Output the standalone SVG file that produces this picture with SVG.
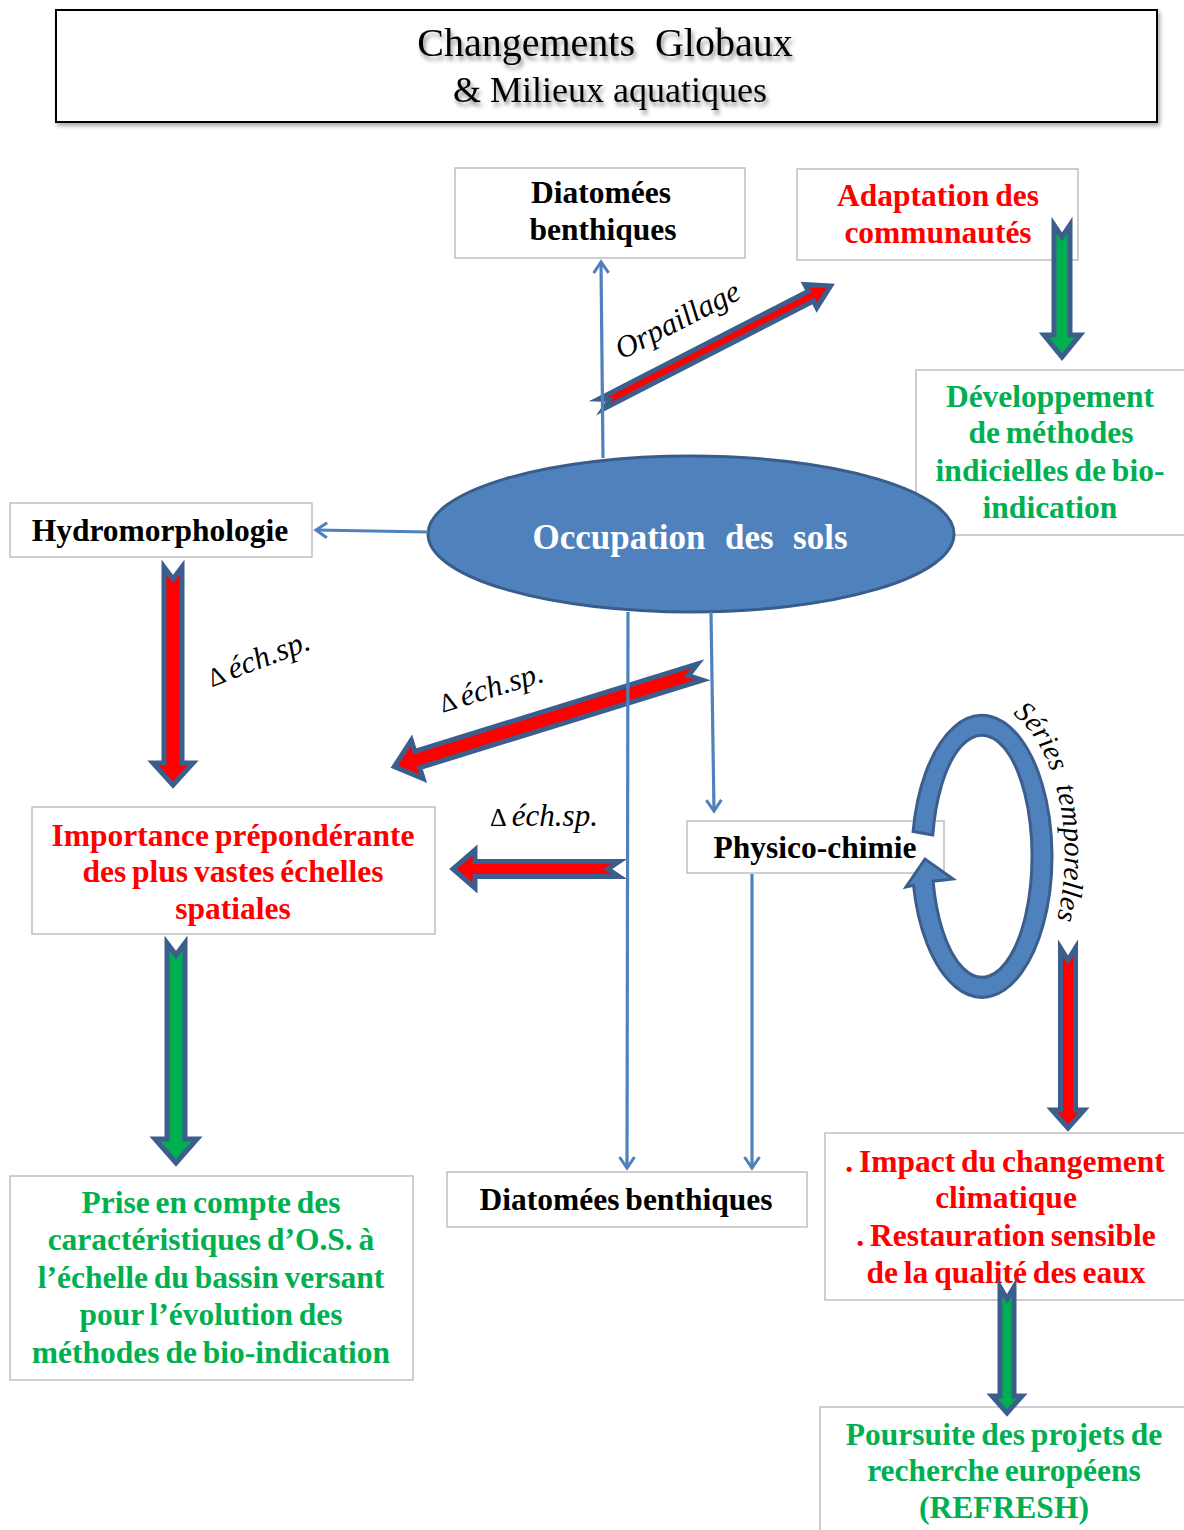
<svg xmlns="http://www.w3.org/2000/svg" width="1184" height="1530" viewBox="0 0 1184 1530">
  <defs>
    <filter id="boxShadow" x="-5%" y="-20%" width="110%" height="150%">
      <feGaussianBlur in="SourceAlpha" stdDeviation="2"/>
      <feOffset dx="2" dy="3" result="b"/>
      <feFlood flood-color="#000" flood-opacity="0.35"/>
      <feComposite in2="b" operator="in"/>
      <feMerge><feMergeNode/><feMergeNode in="SourceGraphic"/></feMerge>
    </filter>
    <filter id="textShadow" x="-10%" y="-30%" width="120%" height="170%">
      <feGaussianBlur in="SourceAlpha" stdDeviation="2.2"/>
      <feOffset dx="2" dy="4" result="b"/>
      <feFlood flood-color="#000" flood-opacity="0.45"/>
      <feComposite in2="b" operator="in"/>
      <feMerge><feMergeNode/><feMergeNode in="SourceGraphic"/></feMerge>
    </filter>
    <marker id="vhead" markerUnits="userSpaceOnUse" markerWidth="16" markerHeight="18" viewBox="0 0 16 18" refX="13" refY="9" orient="auto">
      <path d="M2,1.5 L13,9 L2,16.5" fill="none" stroke="#4F81BD" stroke-width="3"/>
    </marker>
  </defs>
  <style>
    .box { fill: #fff; stroke: #BFBFBF; stroke-width: 1.5; }
    .lbl { font-family: "Liberation Serif", "Times New Roman", serif; font-weight: bold; font-size: 31.5px; text-anchor: middle; word-spacing: -2px; }
    .big { font-size: 35px; word-spacing: 1px; white-space: pre; fill: #fff; }
    .blk { fill: #000; }
    .red { fill: #FF0000; }
    .grn { fill: #00B050; }
    .conn { fill: none; stroke: #4F81BD; stroke-width: 3.2; marker-end: url(#vhead); }
    .barrow { stroke: #3B5E8C; stroke-width: 5; stroke-linejoin: miter; stroke-miterlimit: 10; }
    .ar-red { fill: #FF0000; }
    .ar-grn { fill: #00B050; }
    .ital { font-family: "Liberation Serif", "Times New Roman", serif; font-style: italic; fill: #000; }
  </style>

  <rect width="1184" height="1530" fill="#fff"/>

  <!-- title banner -->
  <g id="title">
    <rect x="56" y="10" width="1101" height="112" fill="#fff" stroke="#000" stroke-width="2" filter="url(#boxShadow)"/>
    <g filter="url(#textShadow)" font-family="Liberation Serif, Times New Roman, serif" fill="#000" text-anchor="middle">
      <text x="605" y="56" font-size="40" style="white-space:pre">Changements  Globaux</text>
      <text x="610" y="102" font-size="36">&amp; Milieux aquatiques</text>
    </g>
  </g>

  <!-- boxed nodes -->
  <g id="diatomees-haut">
    <rect class="box" x="455" y="168" width="290" height="90"/>
    <text class="lbl blk" x="601" y="203">Diatomées</text>
    <text class="lbl blk" x="603" y="240">benthiques</text>
  </g>

  <g id="adaptation">
    <rect class="box" x="797" y="169" width="281" height="91"/>
    <text class="lbl red" x="938" y="206">Adaptation des</text>
    <text class="lbl red" x="938" y="243">communautés</text>
  </g>

  <g id="developpement">
    <rect class="box" x="916" y="370" width="280" height="165"/>
    <text class="lbl grn" x="1050" y="407">Développement</text>
    <text class="lbl grn" x="1051" y="443">de méthodes</text>
    <text class="lbl grn" x="1050" y="481">indicielles de bio-</text>
    <text class="lbl grn" x="1050" y="518">indication</text>
  </g>

  <g id="hydromorphologie">
    <rect class="box" x="10" y="503" width="302" height="54"/>
    <text class="lbl blk" x="160" y="541">Hydromorphologie</text>
  </g>

  <g id="occupation">
    <ellipse cx="691" cy="534" rx="263" ry="78" fill="#4F81BD" stroke="#385D8A" stroke-width="3"/>
    <text class="lbl big" x="690" y="549">Occupation  des  sols</text>
  </g>

  <g id="importance">
    <rect class="box" x="32" y="807" width="403" height="127"/>
    <text class="lbl red" x="233" y="846">Importance prépondérante</text>
    <text class="lbl red" x="233" y="882">des plus vastes échelles</text>
    <text class="lbl red" x="233" y="919">spatiales</text>
  </g>

  <g id="physico-chimie">
    <rect class="box" x="687" y="821" width="257" height="52"/>
    <text class="lbl blk" x="815" y="858">Physico-chimie</text>
  </g>

  <g id="diatomees-bas">
    <rect class="box" x="447" y="1172" width="360" height="55"/>
    <text class="lbl blk" x="626" y="1210">Diatomées benthiques</text>
  </g>

  <g id="prise-en-compte">
    <rect class="box" x="10" y="1176" width="403" height="204"/>
    <text class="lbl grn" x="211" y="1213">Prise en compte des</text>
    <text class="lbl grn" x="211" y="1250">caractéristiques d’O.S. à</text>
    <text class="lbl grn" x="211" y="1288">l’échelle du bassin versant</text>
    <text class="lbl grn" x="211" y="1325">pour l’évolution des</text>
    <text class="lbl grn" x="211" y="1363">méthodes de bio-indication</text>
  </g>

  <g id="impact">
    <rect class="box" x="825" y="1133" width="370" height="167"/>
    <text class="lbl red" x="1005" y="1172">. Impact du changement</text>
    <text class="lbl red" x="1006" y="1208">climatique</text>
    <text class="lbl red" x="1006" y="1246">. Restauration sensible</text>
    <text class="lbl red" x="1006" y="1283">de la qualité des eaux</text>
  </g>

  <g id="poursuite">
    <rect class="box" x="820" y="1407" width="375" height="140"/>
    <text class="lbl grn" x="1004" y="1445">Poursuite des projets de</text>
    <text class="lbl grn" x="1004" y="1481">recherche européens</text>
    <text class="lbl grn" x="1004" y="1518">(REFRESH)</text>
  </g>

  <!-- connectors: block arrows, plain arrows, cycle arrow -->
  <g id="connectors">
    <!-- block arrows (tail at origin, pointing along +x before rotation) -->
    <polygon class="barrow ar-grn" transform="translate(1062,225) rotate(90)" points="0,-8 110,-8 110,-18 132,0 110,18 110,8 0,8 12,0"/>
    <polygon class="barrow ar-red" transform="translate(173,567) rotate(90)" points="0,-9 196,-9 196,-20 218,0 196,20 196,9 0,9 12,0"/>
    <polygon class="barrow ar-grn" transform="translate(176,943) rotate(90)" points="0,-9 196,-9 196,-21 220,0 196,21 196,9 0,9 12,0"/>
    <polygon class="barrow ar-grn" transform="translate(1007,1287) rotate(90)" points="0,-7 109,-7 109,-15 126,0 109,15 109,7 0,7 12,0"/>
    <polygon class="barrow ar-red" transform="translate(1068,948) rotate(90)" points="0,-7.5 162,-7.5 162,-16 180,0 162,16 162,7.5 0,7.5 12,0"/>
    <polygon class="barrow ar-red" transform="translate(601,404) rotate(-27.2)" points="0,-5.5 236,-5.5 236,-13 258,0 236,13 236,5.5 0,5.5 10,0"/>
    <polygon class="barrow ar-red" transform="translate(700,672) rotate(162.8)" points="0,-8.5 296,-8.5 296,-20 320,0 296,20 296,8.5 0,8.5 12,0"/>
    <polygon class="barrow ar-red" transform="translate(619,869) rotate(180)" points="0,-7.5 144,-7.5 144,-19 166,0 144,19 144,7.5 0,7.5 11,0"/>

    <!-- thin arrows from the land-use ellipse -->
    <path class="conn" d="M603,458 L601,262"/>
    <path class="conn" d="M428,532 L316,530"/>
    <path class="conn" d="M628,612 L627,1168"/>
    <path class="conn" d="M711,612 L714,811"/>
    <path class="conn" d="M752,874 L752,1168"/>

    <!-- time-series loop -->
    <path d="M913.1,831.5 A70,141 0 1 1 913.5,885.3 L906,887 L925,859 L953,879 L933.1,881.2 A50,121 0 1 0 932.8,835 Z" fill="#4F81BD" stroke="#3B5E8C" stroke-width="3" stroke-linejoin="miter"/>
  </g>

  <!-- arrow labels -->
  <g id="labels">
    <text class="ital" font-size="31" text-anchor="middle" x="682" y="329" transform="rotate(-27 682 329)">Orpaillage</text>
    <text class="ital" font-size="31" text-anchor="middle" x="262" y="668" transform="rotate(-21 262 668)"><tspan font-style="normal" font-size="26">Δ </tspan>éch.sp.</text>
    <text class="ital" font-size="31" text-anchor="middle" x="494" y="697" transform="rotate(-17 494 697)"><tspan font-style="normal" font-size="26">Δ </tspan>éch.sp.</text>
    <text class="ital" font-size="31" text-anchor="middle" x="544" y="826"><tspan font-style="normal" font-size="26">Δ </tspan>éch.sp.</text>
    <path id="seriesPath" d="M1011,713 A82,151 0 0 1 1045,953" fill="none"/>
    <text class="ital" font-size="29"><textPath href="#seriesPath" startOffset="2">Séries</textPath></text>
    <text class="ital" font-size="29"><textPath href="#seriesPath" startOffset="88">temporelles</textPath></text>
  </g>
</svg>
